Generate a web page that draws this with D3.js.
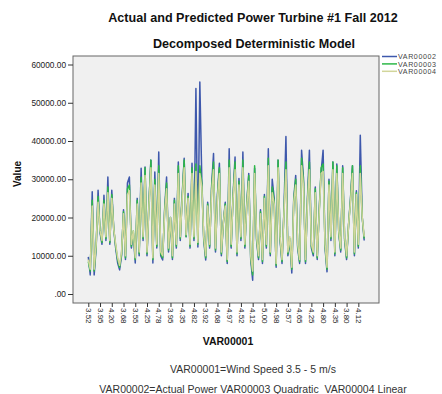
<!DOCTYPE html>
<html>
<head>
<meta charset="utf-8">
<script src="https://cdn.jsdelivr.net/npm/d3@7/dist/d3.min.js"></script>
<style>
  html, body { margin: 0; padding: 0; background: #ffffff; }
  svg text { font-family: Arial, "Liberation Sans", sans-serif; }
</style>
</head>
<body>
<svg id="chart" width="442" height="394"></svg>
<script>
// Wind-speed labels shown on every sixth case along the x axis
const tickLabels = ["3.52","3.95","4.20","3.68","3.55","4.25","4.78","3.95","4.35","4.82","3.92","4.68",
                    "4.97","4.52","4.12","5.00","4.98","3.57","4.65","4.25","4.80","4.35","3.80","4.12"];
const tickStep = 6;

// VAR00002 – actual power
const actual = [
  9700, 5000, 26700, 5000, 12000, 27100, 16000, 13000, 25800, 14000,
  30600, 13000, 27100, 17000, 12000, 8100, 6300, 10000, 22000, 9000,
  29000, 30600, 12000, 16000, 8100, 25000, 10000, 32900, 14000, 33200,
  10000, 24000, 35000, 8100, 31900, 12000, 37100, 10000, 8900, 22000,
  30600, 11000, 20000, 9000, 25000, 12000, 34500, 14000, 26000, 35500,
  15000, 26300, 12000, 34200, 14000, 53700, 12300, 55400, 30200, 14000,
  8900, 24000, 12000, 28000, 36700, 11000, 26000, 34200, 10000, 18500,
  24000, 8000, 38000, 12000, 26000, 35800, 10000, 30200, 14000, 37100,
  12000, 24000, 31500, 9000, 3600, 32900, 14000, 9000, 22000, 8000,
  26000, 12000, 38000, 10000, 30000, 25000, 7000, 35000, 14000, 8000,
  22000, 41200, 10000, 14000, 5500, 25000, 31000, 12000, 8000, 37600,
  30000, 8000, 25000, 37600, 12000, 10000, 28000, 9000, 22000, 32000,
  37600, 12000, 5800, 30000, 14000, 34500, 10000, 34000, 16000, 11000,
  33500, 14000, 9000, 18000, 25000, 33500, 10000, 27000, 12000, 41500,
  20000, 14000
];

// VAR00003 – quadratic prediction
const quadratic = [
  8500, 6000, 24500, 6000, 12500, 25500, 16500, 13500, 24500, 14500,
  28000, 13500, 26000, 17000, 12500, 9000, 7000, 10500, 21500, 9500,
  27500, 28500, 12500, 16500, 9000, 24500, 10500, 30500, 14500, 33000,
  10500, 23500, 35000, 9000, 30000, 12500, 33500, 10500, 9500, 21500,
  29000, 11500, 20000, 9500, 24500, 12500, 33500, 14500, 25500, 35000,
  15000, 25500, 12500, 33000, 14500, 34000, 13000, 33500, 29000, 14500,
  9500, 23500, 12500, 27500, 34500, 11500, 25500, 33000, 10500, 18500,
  23500, 8500, 35000, 12500, 25500, 34500, 10500, 29500, 14500, 35000,
  12500, 23500, 31000, 9500, 5000, 33500, 14500, 9500, 21500, 8500,
  25500, 12500, 35500, 10500, 28000, 24000, 7500, 35000, 14500, 8500,
  21500, 34500, 10500, 14500, 6500, 24500, 30000, 12500, 8500, 35500,
  29000, 8500, 24500, 34500, 12500, 10500, 27500, 9500, 21500, 33000,
  34000, 12500, 6500, 29500, 14500, 34500, 10500, 33500, 16000, 11500,
  33000, 14500, 9500, 18000, 24500, 33500, 10500, 26500, 12500, 33500,
  20000, 14500
];

// VAR00004 – linear prediction
const linear = [
  9000, 6500, 23000, 6500, 13000, 24000, 16500, 14000, 23500, 15000,
  26500, 14000, 25000, 17000, 13000, 9500, 7500, 11000, 21000, 10000,
  26000, 27000, 13000, 16500, 9500, 23500, 11000, 29000, 15000, 31000,
  11000, 23000, 33000, 9500, 28500, 13000, 31500, 11000, 10000, 21000,
  27500, 12000, 20000, 10000, 23500, 13000, 31500, 15000, 25000, 33000,
  15500, 25000, 13000, 31500, 15000, 32000, 13500, 31500, 28000, 15000,
  10000, 23000, 13000, 26500, 32500, 12000, 25000, 31500, 11000, 18500,
  23000, 9000, 33000, 13000, 25000, 32500, 11000, 28500, 15000, 33000,
  13000, 23000, 29500, 10000, 6000, 31500, 15000, 10000, 21000, 9000,
  25000, 13000, 33500, 11000, 26500, 23500, 8000, 33000, 15000, 9000,
  21000, 32500, 11000, 15000, 7000, 24000, 28500, 13000, 9000, 33500,
  28000, 9000, 24000, 32500, 13000, 11000, 26500, 10000, 21000, 31500,
  32000, 13000, 7000, 28500, 15000, 32500, 11000, 31500, 16500, 12000,
  31500, 15000, 10000, 18000, 24000, 31500, 11000, 26000, 13000, 31500,
  20000, 15000
];

const seriesNames = ["VAR00002", "VAR00003", "VAR00004"];
const seriesColors = ["#3e58ac", "#2eb848", "#d2d69b"];
const yTicks = [0, 10000, 20000, 30000, 40000, 50000, 60000];

const svg = d3.select("#chart");
const frame = { left: 73, right: 379, top: 56, bottom: 303 };

const n = actual.length;
const x = d3.scaleLinear().domain([0, n - 1]).range([88.3, 364.2]);
const y = d3.scaleLinear().domain([0, 60000]).range([294, 64.5]);

// Titles
svg.append("text").attr("x", 253).attr("y", 22).attr("text-anchor", "middle")
  .attr("font-size", 12.6).attr("font-weight", "bold").attr("fill", "#111")
  .text("Actual and Predicted Power Turbine #1 Fall 2012");
svg.append("text").attr("x", 254).attr("y", 48).attr("text-anchor", "middle")
  .attr("font-size", 12.6).attr("font-weight", "bold").attr("fill", "#111")
  .text("Decomposed Deterministic Model");

// Plot area
svg.append("rect")
  .attr("x", frame.left).attr("y", frame.top)
  .attr("width", frame.right - frame.left).attr("height", frame.bottom - frame.top)
  .attr("fill", "#f0f0f0").attr("stroke", "#666").attr("stroke-width", 1);

// Y axis
const yAxis = d3.axisLeft(y).tickValues(yTicks).tickSize(5).tickPadding(2)
  .tickFormat(d => d === 0 ? ".00" : d3.format(".2f")(d));
const gy = svg.append("g").attr("transform", `translate(${frame.left},0)`).call(yAxis);
gy.select(".domain").remove();
gy.selectAll("line").attr("stroke", "#333");
gy.selectAll("text").attr("font-size", 8.3).attr("fill", "#222")
  .style("font-family", "Arial, 'Liberation Sans', sans-serif");

// X axis (every sixth case labelled)
const tickIdx = tickLabels.map((_, i) => i * tickStep);
const xAxis = d3.axisBottom(x).tickValues(tickIdx).tickSize(4).tickPadding(3)
  .tickFormat((d, i) => tickLabels[i]);
const gx = svg.append("g").attr("transform", `translate(0,${frame.bottom})`).call(xAxis);
gx.select(".domain").remove();
gx.selectAll("line").attr("stroke", "#333");
gx.selectAll("text")
  .attr("font-size", 8).attr("fill", "#222")
  .attr("text-anchor", "start").attr("dy", "0.35em")
  .attr("transform", "translate(0,5) rotate(90)")
  .attr("x", 0).attr("y", 0)
  .style("font-family", "Arial, 'Liberation Sans', sans-serif");

// Series lines
const line = d3.line().x((d, i) => x(i)).y(d => y(d));
[actual, quadratic, linear].forEach((vals, k) => {
  svg.append("path").datum(vals)
    .attr("d", line).attr("fill", "none")
    .attr("stroke", seriesColors[k]).attr("stroke-width", 1.5)
    .attr("stroke-linejoin", "round");
});

// Axis titles
svg.append("text").attr("transform", "translate(21,174) rotate(-90)")
  .attr("text-anchor", "middle").attr("font-size", 10).attr("font-weight", "bold")
  .attr("fill", "#111").text("Value");
svg.append("text").attr("x", 228).attr("y", 345).attr("text-anchor", "middle")
  .attr("font-size", 10.5).attr("font-weight", "bold").attr("fill", "#111")
  .text("VAR00001");

// Legend
const leg = svg.append("g");
seriesNames.forEach((name, k) => {
  const ly = 56.5 + k * 7.4;
  leg.append("line").attr("x1", 382).attr("x2", 397).attr("y1", ly).attr("y2", ly)
    .attr("stroke", seriesColors[k]).attr("stroke-width", 1.5);
  leg.append("text").attr("x", 398).attr("y", ly + 2.6)
    .attr("font-size", 7.1).attr("letter-spacing", 0.6).attr("fill", "#444").text(name);
});

// Footnotes
svg.append("text").attr("x", 253).attr("y", 373).attr("text-anchor", "middle")
  .attr("font-size", 10.5).attr("fill", "#333").text("VAR00001=Wind Speed 3.5 - 5 m/s");
svg.append("text").attr("x", 253).attr("y", 393).attr("text-anchor", "middle")
  .attr("font-size", 10.5).attr("fill", "#333").style("white-space", "pre")
  .text("VAR00002=Actual Power VAR00003 Quadratic  VAR00004 Linear");
</script>
</body>
</html>
